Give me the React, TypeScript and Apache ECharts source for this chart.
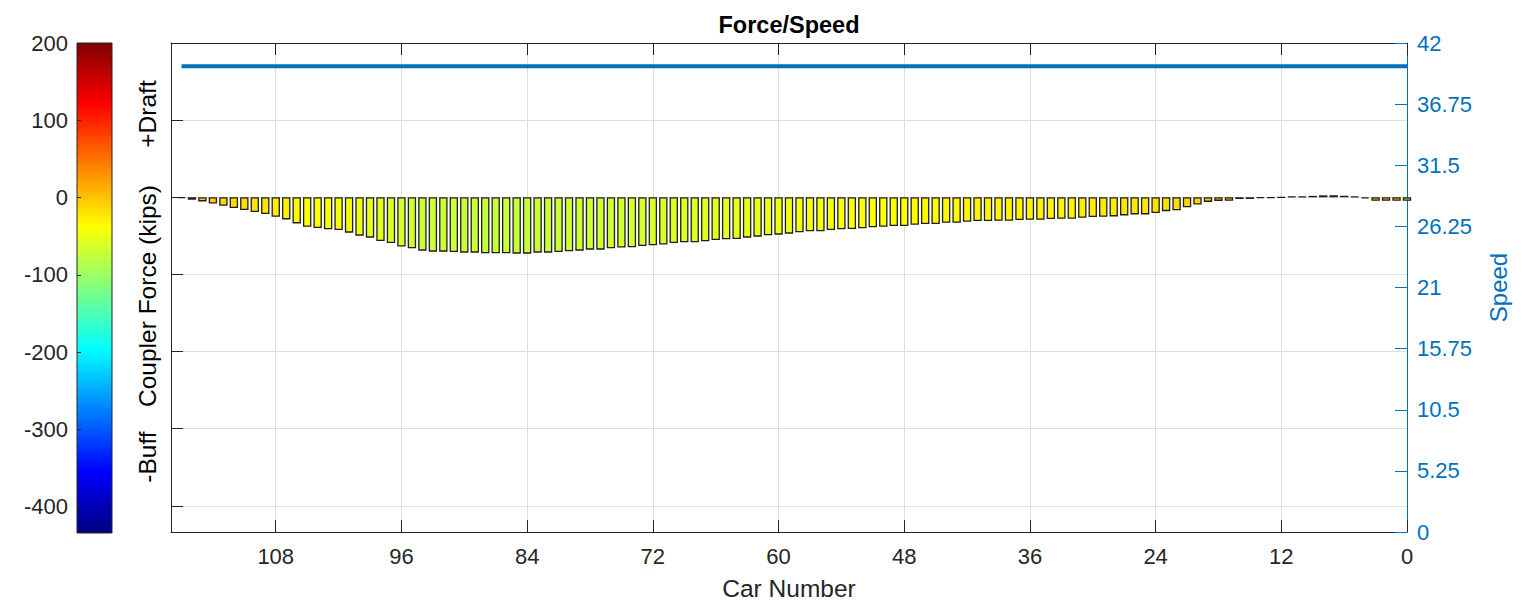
import { useEffect, useRef } from "react";
import * as echarts from "echarts";

// Coupler force (kips) for each car, car 0 first, car 117 last
const forceByCar: number[] = [
  -4.5, -4.5, -4.5, -4.5, -1.5, 1, 2, 2.6, 2.5, 1.8,
  1, 0.8, -0.3, -0.8, -1, -2.2, -2.3, -4.5, -4.7, -6,
  -9.5, -13, -17, -18, -20.5, -22.2, -22.2, -23.5, -24.8, -25.2,
  -25.7, -26.5, -27.8, -27.8, -28.2, -29.1, -29.1, -29.5, -30.4, -30.4,
  -30.8, -30.8, -31.7, -33, -33, -34.7, -34.7, -35.6, -37.3, -37.3,
  -38.2, -39, -40.3, -41.2, -41.6, -42.5, -44.2, -44.2, -45.5, -47.2,
  -48.5, -49.4, -51.1, -52.4, -54.1, -54.5, -55.4, -57.1, -58.4, -58.4,
  -59.3, -61.4, -62.3, -63.2, -64.9, -65.3, -66.2, -67.9, -67.9, -69.2,
  -70, -70.9, -71.8, -71.8, -73.1, -73.1, -72.7, -72.7, -72.7, -71.8,
  -71.8, -70.9, -70.5, -70.5, -69.2, -66.2, -64, -59.3, -56.7, -52.4,
  -49.8, -45.9, -42.5, -41.6, -39.9, -38.2, -33.9, -28.7, -25.2, -21.8,
  -19.2, -16.6, -14, -11, -8, -5.4, -3.2, -1.1,
];

// Train speed, constant along the consist
const speedCars: number[] = [117, 0];
const speedValues: number[] = [40, 40];

const carAxisMax = 118;
const carTickStep = 12;
const forceMin = -434;
const forceMax = 200;
const speedMin = 0;
const speedMax = 42;
const speedStep = 5.25;

// jet colormap, low to high
const jetColors: string[] = [
  "#000080", "#0000ff", "#0080ff", "#00ffff", "#80ff80",
  "#ffff00", "#ff8000", "#ff0000", "#800000",
];

const FONT = "'Liberation Sans', Arial, Helvetica, sans-serif";
const INK = "#262626";
const BLUE = "#0072BD";
const GRID = "#dedede";

export default function App() {
  const ref = useRef<HTMLDivElement>(null);

  useEffect(() => {
    if (!ref.current) return;
    const chart = echarts.init(ref.current, undefined, { renderer: "svg" });

    const barData = forceByCar.map((v, car) => [car, v]);
    const speedData = speedCars.map((c, i) => [c, speedValues[i]]);
    const n = jetColors.length;
    const colorbarStops = jetColors
      .map((color, i) => ({ offset: 1 - i / (n - 1), color }))
      .reverse();

    const option: echarts.EChartsOption = {
      animation: false,
      backgroundColor: "#ffffff",
      textStyle: { fontFamily: FONT },
      grid: [
        { left: 171, top: 43, width: 1236, height: 490, show: false },
        { left: 77, top: 43, width: 35, height: 490, show: false },
      ],
      visualMap: [
        {
          type: "continuous",
          show: false,
          seriesIndex: 0,
          dimension: 1,
          min: forceMin,
          max: forceMax,
          inRange: { color: jetColors },
        },
      ],
      xAxis: [
        {
          gridIndex: 0,
          type: "value",
          min: 0,
          max: carAxisMax,
          interval: carTickStep,
          inverse: true,
          position: "bottom",
          axisLine: { show: true, onZero: false, lineStyle: { color: INK, width: 1 } },
          axisTick: { show: true, inside: true, length: 12, lineStyle: { color: INK } },
          axisLabel: { color: INK, fontSize: 22, margin: 13, showMaxLabel: false, fontFamily: FONT },
          splitLine: { show: true, lineStyle: { color: GRID, width: 1 } },
          name: "Car Number",
          nameLocation: "middle",
          nameGap: 44,
          nameTextStyle: { color: INK, fontSize: 24.5, fontFamily: FONT },
        },
        {
          gridIndex: 0,
          type: "value",
          min: 0,
          max: carAxisMax,
          interval: carTickStep,
          inverse: true,
          position: "top",
          axisLine: { show: true, onZero: false, lineStyle: { color: INK, width: 1 } },
          axisTick: { show: true, inside: true, length: 12, lineStyle: { color: INK } },
          axisLabel: { show: false },
          splitLine: { show: false },
        },
        { gridIndex: 1, type: "value", min: 0, max: 1, show: false },
      ],
      yAxis: [
        {
          gridIndex: 0,
          type: "value",
          min: forceMin,
          max: forceMax,
          splitNumber: 6,
          position: "left",
          axisLine: { show: true, onZero: false, lineStyle: { color: INK, width: 1 } },
          axisTick: { show: true, inside: true, length: 12, lineStyle: { color: INK } },
          axisLabel: { show: false },
          splitLine: { show: true, lineStyle: { color: GRID, width: 1 } },
        },
        {
          gridIndex: 0,
          type: "value",
          min: speedMin,
          max: speedMax,
          interval: speedStep,
          position: "right",
          axisLine: { show: true, onZero: false, lineStyle: { color: BLUE, width: 1 } },
          axisTick: { show: true, inside: true, length: 12, lineStyle: { color: BLUE } },
          axisLabel: { color: BLUE, fontSize: 22, margin: 10, fontFamily: FONT },
          splitLine: { show: false },
          name: "Speed",
          nameLocation: "middle",
          nameRotate: 90,
          nameGap: 79,
          nameTextStyle: { color: BLUE, fontSize: 24, fontFamily: FONT },
        },
        {
          gridIndex: 1,
          type: "value",
          min: forceMin,
          max: forceMax,
          splitNumber: 6,
          position: "left",
          z: 10,
          axisLine: { show: false },
          axisTick: { show: true, inside: true, length: 4, lineStyle: { color: INK } },
          axisLabel: { color: INK, fontSize: 22, margin: 9, showMinLabel: false, fontFamily: FONT },
          splitLine: { show: false },
        },
      ],
      graphic: [
        {
          type: "rect",
          z: 1,
          shape: { x: 77, y: 43, width: 35, height: 490 },
          style: {
            fill: new echarts.graphic.LinearGradient(0, 0, 0, 1, colorbarStops),
            stroke: INK,
            lineWidth: 1,
          },
        },
        {
          type: "text",
          x: 789,
          y: 25,
          style: {
            text: "Force/Speed",
            fontSize: 23.5,
            fontWeight: "bold",
            fontFamily: FONT,
            fill: "#000000",
            align: "center",
            verticalAlign: "middle",
            textAlign: "center",
            textVerticalAlign: "middle",
          } as any,
        },
        ...[
          { text: "+Draft", y: 114 },
          { text: "Coupler Force (kips)", y: 296 },
          { text: "-Buff", y: 457 },
        ].map((t) => ({
          type: "text" as const,
          x: 147,
          y: t.y,
          rotation: Math.PI / 2,
          style: {
            text: t.text,
            fontSize: 24.5,
            fontFamily: FONT,
            fill: "#000000",
            align: "center",
            verticalAlign: "middle",
            textAlign: "center",
            textVerticalAlign: "middle",
          } as any,
        })),
      ],
      series: [
        {
          type: "bar",
          xAxisIndex: 0,
          yAxisIndex: 0,
          data: barData,
          barWidth: 8.4,
          clip: true,
          itemStyle: { borderColor: "#1e1e1e", borderWidth: 1.3 },
        },
        {
          type: "line",
          xAxisIndex: 0,
          yAxisIndex: 1,
          data: speedData,
          symbol: "none",
          lineStyle: { color: BLUE, width: 4 },
          z: 3,
        },
      ],
    };

    chart.setOption(option);
    return () => chart.dispose();
  }, []);

  return (
    <div
      ref={ref}
      style={{ position: "absolute", left: 0, top: 0, width: 1525, height: 606 }}
    />
  );
}
